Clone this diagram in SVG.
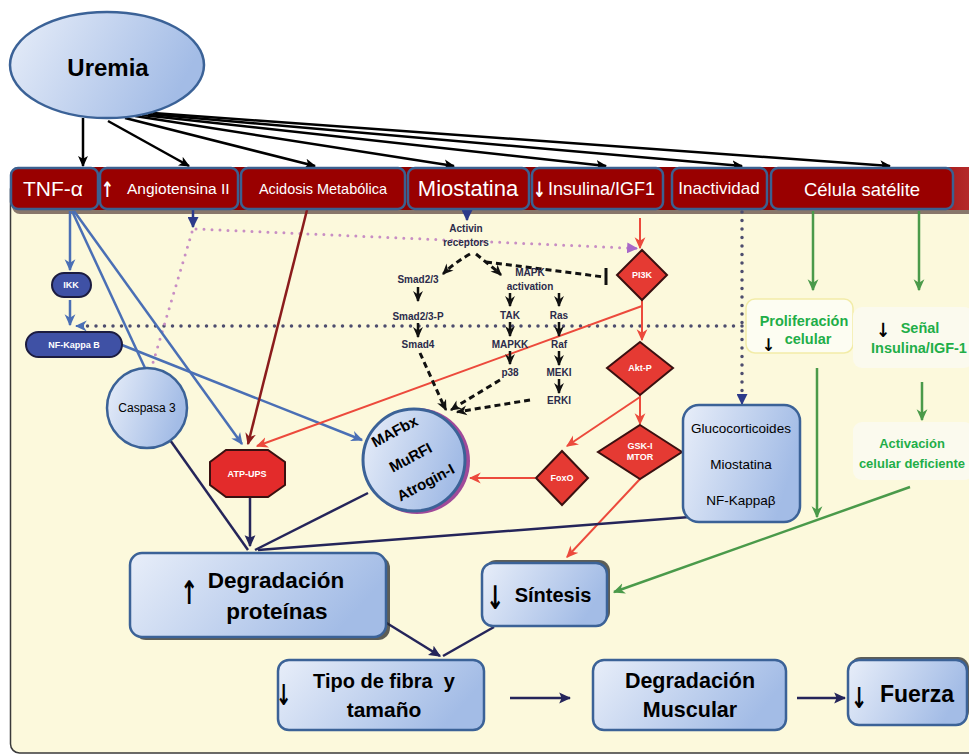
<svg xmlns="http://www.w3.org/2000/svg" width="969" height="755" viewBox="0 0 969 755">
<defs>
<linearGradient id="gBox" x1="0" y1="0" x2="1" y2="0.3"><stop offset="0" stop-color="#e8eef9"/><stop offset="1" stop-color="#a3bce6"/></linearGradient>
<linearGradient id="gBar" x1="0" y1="0" x2="1" y2="0"><stop offset="0.9" stop-color="#8f0000"/><stop offset="1" stop-color="#c23a3a"/></linearGradient>
<marker id="mBlack" viewBox="0 0 10 10" refX="9" refY="5" markerWidth="11" markerHeight="11" markerUnits="userSpaceOnUse" orient="auto"><path d="M0,0.5 L10,5 L0,9.5 L2.5,5 z" fill="#000"/></marker>
<marker id="mBlue" viewBox="0 0 10 10" refX="9" refY="5" markerWidth="12" markerHeight="12" markerUnits="userSpaceOnUse" orient="auto"><path d="M0,0.5 L10,5 L0,9.5 L3,5 z" fill="#4a6fb5"/></marker>
<marker id="mRed" viewBox="0 0 10 10" refX="9" refY="5" markerWidth="12" markerHeight="12" markerUnits="userSpaceOnUse" orient="auto"><path d="M0,0.5 L10,5 L0,9.5 L3,5 z" fill="#ec4a3c"/></marker>
<marker id="mDred" viewBox="0 0 10 10" refX="9" refY="5" markerWidth="12" markerHeight="12" markerUnits="userSpaceOnUse" orient="auto"><path d="M0,0.5 L10,5 L0,9.5 L3,5 z" fill="#8b1c1c"/></marker>
<marker id="mNavy" viewBox="0 0 10 10" refX="9" refY="5" markerWidth="12" markerHeight="12" markerUnits="userSpaceOnUse" orient="auto"><path d="M0,0.5 L10,5 L0,9.5 L2,5 z" fill="#25255a"/></marker>
<marker id="mNavyT" viewBox="0 0 10 10" refX="9" refY="5" markerWidth="11" markerHeight="11" markerUnits="userSpaceOnUse" orient="auto"><path d="M0,0 L10,5 L0,10 z" fill="#2c3a8a"/></marker>
<marker id="mGreen" viewBox="0 0 10 10" refX="9" refY="5" markerWidth="12" markerHeight="12" markerUnits="userSpaceOnUse" orient="auto"><path d="M0,0.5 L10,5 L0,9.5 L3,5 z" fill="#4a9a4a"/></marker>
<marker id="mPurple" viewBox="0 0 10 10" refX="9" refY="5" markerWidth="11" markerHeight="11" markerUnits="userSpaceOnUse" orient="auto"><path d="M0,0 L10,5 L0,10 z" fill="#a868c8"/></marker>
<marker id="mDash" viewBox="0 0 10 10" refX="9" refY="5" markerWidth="11" markerHeight="11" markerUnits="userSpaceOnUse" orient="auto"><path d="M0,0.5 L10,5 L0,9.5 L3,5 z" fill="#111"/></marker>
<style>
.f{font-family:"Liberation Sans",Arial,"DejaVu Sans",sans-serif}
.hdr{fill:#990000;stroke:#3b6090;stroke-width:2.5}
.ht{fill:#fff;font-family:"Liberation Sans",Arial,"DejaVu Sans",sans-serif}
.ha{fill:#fff;font-family:"DejaVu Sans",sans-serif;font-weight:bold}
.box{fill:url(#gBox);stroke:#3b6297;stroke-width:2.5}
.shd{fill:#2a2a2a;opacity:0.75}
.bt{font-family:"Liberation Sans",Arial,"DejaVu Sans",sans-serif;font-weight:bold;fill:#000;text-anchor:middle}
.arw{font-family:"DejaVu Sans","Liberation Sans",sans-serif;fill:#000;font-weight:bold}
.lbl{font-family:"Liberation Sans",Arial,sans-serif;font-weight:bold;font-size:10px;fill:#2b2b4b;text-anchor:middle}
.wt{font-family:"Liberation Sans",Arial,sans-serif;font-weight:bold;fill:#fff;text-anchor:middle;font-size:9px}
.gt{font-family:"Liberation Sans",Arial,sans-serif;font-weight:bold;fill:#1fae48;text-anchor:middle}
.dia{fill:#e53a33;stroke:#3a1010;stroke-width:2}
.pill{fill:#3f51a5;stroke:#1c1c40;stroke-width:2}
.ub{stroke:#000;stroke-width:2.5;fill:none;marker-end:url(#mBlack)}
.blue{stroke:#4a6fb5;stroke-width:2.5;fill:none}
.red{stroke:#ec4a3c;stroke-width:2;fill:none}
.navy{stroke:#25255a;stroke-width:2.5;fill:none}
.green{stroke:#4a9a4a;stroke-width:2.5;fill:none;marker-end:url(#mGreen)}
.dash{stroke:#111;stroke-width:3;fill:none;stroke-dasharray:6 4}
.sa{stroke:#111;stroke-width:2.5;fill:none;marker-end:url(#mDash)}
.dotn{stroke:#4d4d6e;stroke-width:3.5;fill:none;stroke-dasharray:0 8.5;stroke-linecap:round}
.dotp{stroke:#c88ec4;stroke-width:3;fill:none;stroke-dasharray:0 8;stroke-linecap:round}
</style>
</defs>
<rect width="969" height="755" fill="#fff"/>
<!-- panel -->
<rect x="10.5" y="180" width="990" height="573" rx="9" fill="#fcf9dc" stroke="#3a3a3a" stroke-width="1.5"/>
<rect x="12" y="171" width="985" height="43" rx="8" fill="#3a2020" opacity="0.6"/>
<rect x="10" y="167" width="985" height="43" rx="9" fill="url(#gBar)"/>

<!-- connectors -->
<g id="connectors">
<path class="ub" d="M83,118 L83,166"/>
<path class="ub" d="M108,121 L189,166"/>
<path class="ub" d="M125,118 L315,166"/>
<path class="ub" d="M135,116 L454,166"/>
<path class="ub" d="M142,115 L606,166"/>
<path class="ub" d="M148,114 L742,166"/>
<path class="ub" d="M153,113 L890,166"/>

<path class="dotn" d="M742,212 L742,396"/>
<path d="M742,396 L742,404" stroke="#2c3a8a" stroke-width="2" marker-end="url(#mNavyT)"/>
<path class="dotn" d="M742,326 L84,326"/>
<path d="M84,326 L76,326" stroke="#4a6fb5" stroke-width="2" marker-end="url(#mBlue)"/>

<path d="M193,210 L193,227" stroke="#2c3a8a" stroke-width="2.5" marker-end="url(#mNavyT)"/>
<path class="dotp" d="M196,229 L628,248"/>
<path d="M628,248 L637,248.5" stroke="#a868c8" stroke-width="2" marker-end="url(#mPurple)"/>
<path class="dotp" d="M192,232 L152,366"/>
<path d="M467,208 L467,220" stroke="#2c3a8a" stroke-width="2.5" marker-end="url(#mNavyT)"/>

<path class="blue" d="M70,211 L70,270" marker-end="url(#mBlue)"/>
<path class="blue" d="M70,300 L70,325" marker-end="url(#mBlue)"/>
<path class="blue" d="M72,211 L145,368"/>
<path class="blue" d="M74,211 L242,444" marker-end="url(#mBlue)"/>
<path class="blue" d="M122,345 L362,440" marker-end="url(#mBlue)"/>

<path d="M307,210 L248,444" stroke="#8b1c1c" stroke-width="2.5" fill="none" marker-end="url(#mDred)"/>

<path class="red" d="M640,218 L640,248" marker-end="url(#mRed)"/>
<path class="red" d="M642,300 L642,340" marker-end="url(#mRed)"/>
<path class="red" d="M642,306 L257,446" marker-end="url(#mRed)"/>
<path class="red" d="M640,395 L640,424" marker-end="url(#mRed)"/>
<path class="red" d="M640,397 L567,446" marker-end="url(#mRed)"/>
<path class="red" d="M535,478 L470,478" stroke-width="2.5" marker-end="url(#mRed)"/>
<path class="red" d="M640,479 L567,557" marker-end="url(#mRed)"/>

<path class="dash" d="M470,254 Q456,262 446,271"/>
<path d="M446,271 L443,274" class="sa"/>
<path class="dash" d="M476,254 L497,271"/>
<path d="M497,271 L501,275" class="sa"/>
<path class="dash" d="M486,262 L604,277"/>
<path d="M606,268 L606,285" stroke="#111" stroke-width="3"/>
<path class="sa" d="M418,287 L418,301"/>
<path class="sa" d="M418,323 L418,337"/>
<path class="sa" d="M510,293 L510,306"/>
<path class="sa" d="M510,322 L510,336"/>
<path class="sa" d="M510,351 L510,364"/>
<path class="sa" d="M559,293 L559,306"/>
<path class="sa" d="M559,322 L559,336"/>
<path class="sa" d="M559,351 L559,365"/>
<path class="sa" d="M559,379 L559,393"/>
<path class="dash" d="M420,353 L443,404"/>
<path class="sa" d="M443,404 L446,410"/>
<path class="dash" d="M500,380 L457,406"/>
<path class="sa" d="M457,406 L451,410"/>
<path class="dash" d="M530,400 L463,411"/>
<path class="sa" d="M463,411 L457,412"/>

<path class="navy" d="M250,497 L250,546" marker-end="url(#mNavy)"/>
<path class="navy" d="M170,440 L248,550"/>
<path class="navy" d="M368,493 L255,550"/>
<path class="navy" d="M690,517 L258,550"/>
<path class="navy" d="M385,622 L440,656" marker-end="url(#mNavy)"/>
<path class="navy" d="M494,627 L443,656"/>
<path class="navy" d="M510,698 L570,698" stroke-width="3" marker-end="url(#mNavy)"/>
<path class="navy" d="M797,698 L845,698" stroke-width="3" marker-end="url(#mNavy)"/>

<path class="green" d="M813,211 L813,290"/>
<path class="green" d="M919,211 L919,290"/>
<path class="green" d="M817,368 L817,517"/>
<path class="green" d="M922,382 L922,420"/>
<path class="green" d="M910,487 L614,592"/>
</g>

<!-- Uremia -->
<g id="uremia">
<ellipse cx="107" cy="65" rx="97" ry="53" fill="url(#gBox)" stroke="#3b6297" stroke-width="2.5"/>
<text x="108" y="76" class="bt" font-size="24">Uremia</text>
</g>

<!-- header -->
<g id="tnf"><rect class="hdr" x="11" y="168" width="87" height="41" rx="7"/><text class="ht" x="53" y="196" font-size="21" text-anchor="middle">TNF-α</text></g>
<g id="angiotensina"><rect class="hdr" x="100" y="168" width="138" height="41" rx="7"/><text class="ha" font-size="17" transform="translate(101,197) scale(0.9,1.25)">↑</text><text class="ht" x="127" y="194" font-size="15.5">Angiotensina II</text></g>
<g id="acidosis"><rect class="hdr" x="241" y="168" width="164" height="41" rx="7"/><text class="ht" x="323" y="194" font-size="14.5" text-anchor="middle">Acidosis Metabólica</text></g>
<g id="miostatina"><rect class="hdr" x="408" y="168" width="121" height="41" rx="7"/><text class="ht" x="468" y="196" font-size="22" text-anchor="middle">Miostatina</text></g>
<g id="insulina"><rect class="hdr" x="532" y="168" width="131" height="41" rx="7"/><text class="ha" font-size="17" transform="translate(533,197) scale(0.9,1.25)">↓</text><text class="ht" x="548" y="195" font-size="18">Insulina/IGF1</text></g>
<g id="inactividad"><rect class="hdr" x="672" y="168" width="95" height="41" rx="7"/><text class="ht" x="719" y="194" font-size="17" text-anchor="middle">Inactividad</text></g>
<g id="celula"><rect class="hdr" x="771" y="168" width="182" height="41" rx="7"/><text class="ht" x="862" y="196" font-size="18.5" text-anchor="middle">Célula satélite</text></g>

<!-- left pathway -->
<g id="ikk"><rect class="pill" x="52" y="273" width="39" height="24" rx="12"/><text class="wt" x="71" y="288">IKK</text></g>
<g id="nfkb"><rect class="pill" x="26" y="332" width="96" height="25" rx="12.5"/><text class="wt" x="74" y="348">NF-Kappa B</text></g>
<g id="caspasa"><circle cx="147" cy="408" r="40" fill="url(#gBox)" stroke="#3b6297" stroke-width="2.5"/><text class="f" x="147" y="412" font-size="12" text-anchor="middle">Caspasa 3</text></g>
<g id="atpups"><polygon points="226,450 268,450 285,462 285,485 268,497 226,497 210,485 210,462" fill="#e32b2b" stroke="#3a1010" stroke-width="2"/><text class="wt" x="247" y="477" font-size="10">ATP-UPS</text></g>

<!-- middle pathway labels -->
<g id="activin"><text class="lbl" x="466" y="232">Activin</text><text class="lbl" x="466" y="246">receptors</text></g>
<g id="smad23"><text class="lbl" x="418" y="283">Smad2/3</text></g>
<g id="mapk"><text class="lbl" x="530" y="276">MAPK</text><text class="lbl" x="530" y="290">activation</text></g>
<g id="smad23p"><text class="lbl" x="418" y="320">Smad2/3-P</text></g>
<g id="tak"><text class="lbl" x="510" y="319">TAK</text></g>
<g id="ras"><text class="lbl" x="559" y="319">Ras</text></g>
<g id="smad4"><text class="lbl" x="418" y="348">Smad4</text></g>
<g id="mapkk"><text class="lbl" x="510" y="348">MAPKK</text></g>
<g id="raf"><text class="lbl" x="559" y="348">Raf</text></g>
<g id="p38"><text class="lbl" x="510" y="376">p38</text></g>
<g id="mek1"><text class="lbl" x="559" y="376">MEKI</text></g>
<g id="erk1"><text class="lbl" x="559" y="404">ERKI</text></g>

<g id="pi3k"><polygon class="dia" points="642,250 667,275 642,300 617,275"/><text class="wt" x="642" y="278">PI3K</text></g>
<g id="aktp"><polygon class="dia" points="640,342 673,368 640,395 607,368"/><text class="wt" x="640" y="371">Akt-P</text></g>
<g id="gsk"><polygon class="dia" points="640,425 682,452 640,479 598,452"/><text class="wt" x="640" y="449" font-size="8.5">GSK-I</text><text class="wt" x="640" y="460" font-size="8.5">MTOR</text></g>
<g id="foxo"><polygon class="dia" points="562,451 588,478 562,505 536,478"/><text class="wt" x="562" y="481" font-size="8">FoxO</text></g>

<g id="mafbx"><circle cx="417" cy="461" r="53" fill="#a04a9a"/><circle cx="414" cy="460" r="51" fill="url(#gBox)" stroke="#3b6297" stroke-width="3"/>
<text class="bt" font-size="15" transform="translate(397,436) rotate(-28)">MAFbx</text>
<text class="bt" font-size="15" transform="translate(413,462) rotate(-28)">MuRFI</text>
<text class="bt" font-size="15" transform="translate(428,487) rotate(-28)">Atrogin-I</text></g>

<g id="glucocorticoides"><rect class="box" x="683" y="405" width="117" height="117" rx="16"/>
<text class="f" x="741" y="433" font-size="13.5" text-anchor="middle">Glucocorticoides</text>
<text class="f" x="741" y="469" font-size="13.5" text-anchor="middle">Miostatina</text>
<text class="f" x="741" y="505" font-size="13.5" text-anchor="middle">NF-Kappaβ</text></g>

<!-- green column -->
<g id="proliferacion"><rect x="746" y="299" width="107" height="54" rx="9" fill="#fdfdf2" stroke="#f2eca8" stroke-width="1.5"/>
<text class="gt" x="804" y="326" font-size="14.5">Proliferación</text><text class="gt" x="808" y="344" font-size="14.5">celular</text>
<text class="arw" font-size="16" transform="translate(762,351) scale(1,1.1)">↓</text></g>
<g id="senal"><rect x="853" y="307" width="120" height="61" rx="9" fill="#fbfaee"/>
<text class="gt" x="920" y="333" font-size="14.5">Señal</text><text class="gt" x="919" y="353" font-size="14.5">Insulina/IGF-1</text>
<text class="arw" font-size="17" transform="translate(876,337) scale(1,1.15)">↓</text></g>
<g id="activacion"><rect x="853" y="422" width="120" height="58" rx="9" fill="#fbfaee"/>
<text class="gt" x="912" y="448" font-size="13">Activación</text><text class="gt" x="912" y="468" font-size="13">celular deficiente</text></g>

<!-- bottom boxes -->
<g id="degradacion-proteinas"><rect class="shd" x="134" y="556" width="256" height="84" rx="12"/><rect class="box" x="130" y="553" width="256" height="84" rx="12"/>
<text class="arw" font-size="24" transform="translate(180,604) scale(0.9,1.35)">↑</text>
<text class="bt" x="276" y="588" font-size="22.5">Degradación</text><text class="bt" x="277" y="619" font-size="22.5">proteínas</text></g>
<g id="sintesis"><rect class="shd" x="485" y="560" width="125" height="63" rx="11"/><rect class="box" x="482" y="563" width="125" height="63" rx="11"/>
<text class="arw" font-size="24" transform="translate(486,609) scale(0.9,1.35)">↓</text><text class="bt" x="553" y="602" font-size="20">Síntesis</text></g>
<g id="tipo-fibra"><rect class="box" x="278" y="660" width="206" height="70" rx="11"/>
<text class="arw" font-size="22" transform="translate(276,705) scale(0.85,1.3)">↓</text>
<text class="bt" x="384" y="688" font-size="20" xml:space="preserve">Tipo de fibra  y</text><text class="bt" x="384" y="717" font-size="21">tamaño</text></g>
<g id="degradacion-muscular"><rect class="box" x="593" y="660" width="193" height="70" rx="11"/>
<text class="bt" x="690" y="688" font-size="21.5">Degradación</text><text class="bt" x="690" y="717" font-size="21.5">Muscular</text></g>
<g id="fuerza"><rect class="shd" x="850" y="657" width="119" height="65" rx="11"/><rect class="box" x="848" y="660" width="119" height="65" rx="11"/>
<text class="arw" font-size="22" transform="translate(851,708) scale(0.9,1.3)">↓</text><text class="bt" x="917" y="702" font-size="23">Fuerza</text></g>
</svg>
